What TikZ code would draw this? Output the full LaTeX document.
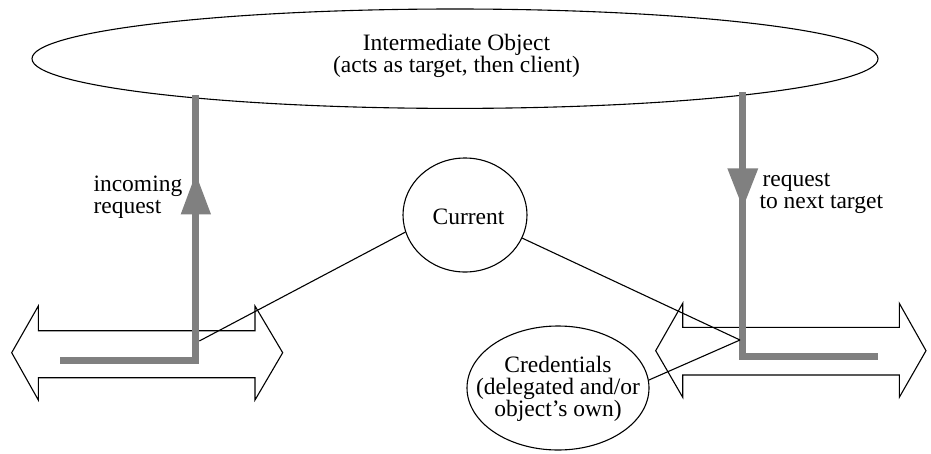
\documentclass[tikz,border=0pt]{standalone}
\usepackage{fontspec}
\setmainfont{Liberation Serif}
\usetikzlibrary{shapes.geometric}
\definecolor{bargray}{RGB}{128,128,128}
\tikzset{
  thin line/.style={draw=black, line width=1.1pt},
  oval/.style={ellipse, thin line, inner sep=0pt},
  lbl/.style={font={\fontsize{23.5}{21.8}\selectfont}, inner sep=0pt, align=center},
  lbll/.style={font={\fontsize{23.5}{21.8}\selectfont}, inner sep=0pt, align=left},
  bar/.style={draw=bargray, line width=7pt, line join=miter, line cap=butt},
  headtri/.style={fill=bargray, draw=none},
  dblarrow/.style={thin line, line join=miter}
}
\begin{document}
\begin{tikzpicture}[x=1pt, y=-1pt]
\useasboundingbox (0,0) rectangle (931,453);

% big ellipse
\node[oval, minimum width=846pt, minimum height=99.4pt] (obj) at (455,58.7) {};
\node[lbl, anchor=base] (objtxt) at (456.5,72) {Intermediate Object\\(acts as target, then client)};

% current
\node[oval, minimum width=124pt, minimum height=114pt] (cur) at (465,215) {};
\node[lbl, anchor=base] (curtxt) at (468.5,224.3) {Current};

% credentials
\node[oval, minimum width=182pt, minimum height=124pt] (cred) at (558,388) {};
\node[lbl, anchor=base] (credtxt) at (558,416) {Credentials\\(delegated and/or\\object's own)};

% double arrows
\draw[dblarrow] (11.7,352.7) -- (38.3,306) -- (38.3,330.7) -- (255,330.7) -- (255,306)
  -- (282.7,352.7) -- (255,400) -- (255,377.7) -- (38.3,377.7) -- (38.3,400) -- cycle;
\draw[dblarrow] (655.7,350.7) -- (682.7,303.3) -- (682.7,327.3) -- (899.3,327.3) -- (899.3,303.3)
  -- (926,350.7) -- (899.3,397.3) -- (899.3,375) -- (682.7,375) -- (682.7,397.3) -- cycle;

% gray request paths
\coordinate (lin) at (60,360.5);
\coordinate (lcorner) at (195.8,360.5);
\coordinate (ltop) at (195.8,95);
\draw[bar] (lin) -- (lcorner) -- (ltop);
\fill[headtri] (195.8,174) -- (180.7,214.3) -- (211,214.3) -- cycle;

\coordinate (rtop) at (742.3,92.3);
\coordinate (rcorner) at (742.3,356.7);
\coordinate (rout) at (877.7,356.7);
\draw[bar] (rtop) -- (rcorner) -- (rout);
\fill[headtri] (727.3,168.3) -- (758.3,168.3) -- (742.8,207.7) -- cycle;

\node[lbll, anchor=base west] (inlbl) at (93.3,213) {incoming\\request};
\node[lbll, anchor=base west] (outlbl) at (759.3,208.5) {\hspace{3pt}request\\to next target};

% thin connectors
\coordinate (lhit) at (199.3,341);
\coordinate (rhit) at (740,340);
\draw[thin line] (cur.196.7) -- (lhit);
\draw[thin line] (cur.-22.6) -- (rhit);
\draw[thin line] (cred.5.6) -- (rhit);
\end{tikzpicture}
\end{document}
